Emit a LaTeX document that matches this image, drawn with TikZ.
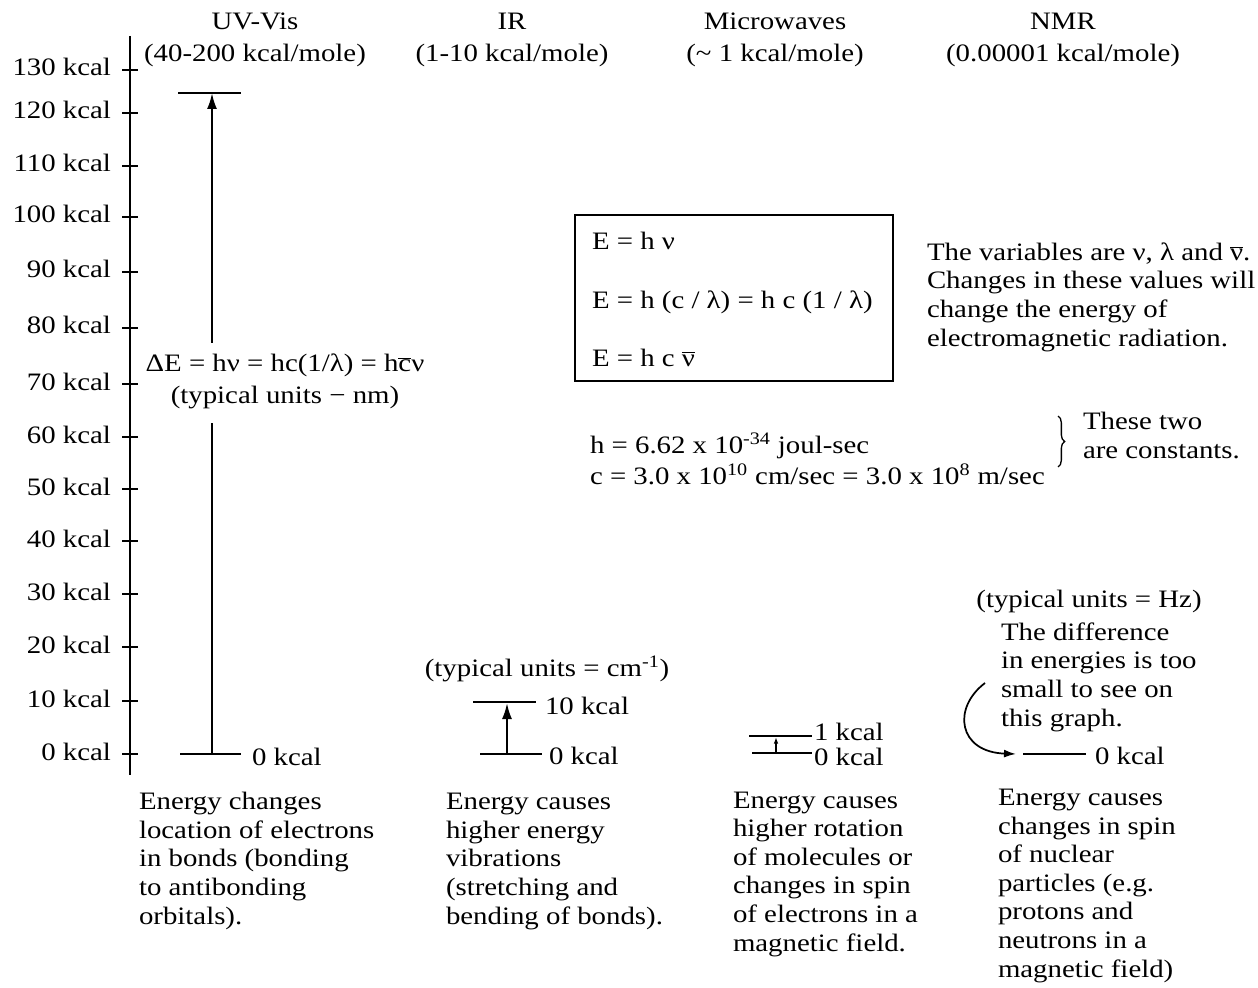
\documentclass[tikz,border=0pt]{standalone}
\usepackage{fontspec}
\setmainfont[FakeStretch=1.15]{Liberation Serif}
\usetikzlibrary{arrows.meta,decorations.pathreplacing}
\newcommand{\ovl}[1]{$\overline{\hbox{#1}}$}
\begin{document}
\begin{tikzpicture}[x=0.75pt,y=-0.75pt,
  txt/.style={inner sep=0pt,outer sep=0pt,font=\fontsize{18.8}{21.4}\selectfont},
  ml/.style={txt,align=left,anchor=base west},
  hd/.style={txt,align=center,anchor=base},
  lvl/.style={line width=1.7pt},
  arr/.style={line width=1.7pt,-{Latex[length=12pt,width=7.5pt]}},
  smallarr/.style={line width=1.2pt,-{Latex[length=5pt,width=3.5pt]}},
]
\fill[white] (0,0) rectangle (1258,988);
\useasboundingbox (0,0) rectangle (1258,988);

% multi-line nodes are placed by the baseline of their LAST line

% ---------- axis ----------
\coordinate (axT) at (130,36);
\coordinate (axB) at (130,775);
\draw[line width=2.1pt] (axT) -- (axB);
\foreach \v/\y in {130/70,120/113,110/166,100/217,90/272,80/328,70/384,60/437,50/489,40/541,30/594,20/647,10/701,0/754}{
  \coordinate (tk\v) at (130,\y);
  \draw[line width=1.9pt] ([xshift=-6pt]tk\v) -- ([xshift=6pt]tk\v);
  \node[txt,anchor=base east] (lb\v) at (111,\y+6) {\v\ kcal};
}

% ---------- headings ----------
\node[hd] (hUV) at (255,62) {UV-Vis\\[3pt](40-200 kcal/mole)};
\node[hd] (hIR) at (512,62) {IR\\[3pt](1-10 kcal/mole)};
\node[hd] (hMW) at (775,62) {Microwaves\\[3pt](\textasciitilde\ 1 kcal/mole)};
\node[hd] (hNMR) at (1063,62) {NMR\\[3pt](0.00001 kcal/mole)};

% ---------- UV-Vis ----------
\coordinate (uvBa) at (180,754); \coordinate (uvBb) at (241,754);
\coordinate (uvTa) at (178,93);  \coordinate (uvTb) at (241,93);
\draw[lvl] (uvBa) -- (uvBb);
\draw[lvl] (uvTa) -- (uvTb);
\coordinate (uv0) at (212,754);
\coordinate (uv1) at (212,93);
\coordinate (uvGapB) at (212,423);
\coordinate (uvGapT) at (212,343);
\draw[lvl] (uv0) -- (uvGapB);
\draw[arr] (uvGapT) -- (uv1);
\node[hd] (dE) at (285,403) {ΔE = hν = hc(1/λ) = h\ovl{c}ν\\[2pt](typical units − nm)};
\node[txt,anchor=base west] (uv0lab) at (252,765) {0 kcal};
\node[ml] (uvTxt) at (139,924) {Energy changes\\location of electrons\\in bonds (bonding\\to antibonding\\orbitals).};

% ---------- formula box ----------
\coordinate (bxA) at (575,215); \coordinate (bxB) at (893,381);
\draw[line width=1.1pt] (bxA) rectangle (bxB);
\node[txt,anchor=base west] (f1) at (592,250) {E = h ν};
\node[txt,anchor=base west] (f2) at (592,309) {E = h (c / λ) = h c (1 / λ)};
\node[txt,anchor=base west] (f3) at (592,366) {E = h c \ovl{ν}};

\node[ml] (vars) at (927,346) {The variables are ν, λ and \ovl{ν}.\\Changes in these values will\\change the energy of\\electromagnetic radiation.};

\node[txt,anchor=base west] (hconst) at (590,453) {h = 6.62 x 10\textsuperscript{-34} joul-sec};
\node[txt,anchor=base west] (cconst) at (590,484) {c = 3.0 x 10\textsuperscript{10} cm/sec = 3.0 x 10\textsuperscript{8} m/sec};
\coordinate (brT) at (1058,416);
\coordinate (brB) at (1058,467);
\draw[line width=1pt,decorate,decoration={brace,amplitude=5pt}] (brT) -- (brB);
\node[ml] (consts) at (1083,458) {These two\\are constants.};

% ---------- IR ----------
\node[txt,anchor=base] (irUnits) at (547,676) {(typical units = cm\textsuperscript{-1})};
\coordinate (irTa) at (473,702); \coordinate (irTb) at (536,702);
\coordinate (irBa) at (480,754); \coordinate (irBb) at (542,754);
\draw[lvl] (irTa) -- (irTb);
\draw[lvl] (irBa) -- (irBb);
\coordinate (ir0) at (507,754); \coordinate (ir1) at (507,703);
\draw[arr] (ir0) -- (ir1);
\node[txt,anchor=base west] (ir10lab) at (545,714) {10 kcal};
\node[txt,anchor=base west] (ir0lab) at (549,764) {0 kcal};
\node[ml] (irTxt) at (446,924) {Energy causes\\higher energy\\vibrations\\(stretching and\\bending of bonds).};

% ---------- Microwaves ----------
\coordinate (mwTa) at (749,736); \coordinate (mwTb) at (812,736);
\coordinate (mwBa) at (752,753); \coordinate (mwBb) at (812,753);
\draw[lvl] (mwTa) -- (mwTb);
\draw[lvl] (mwBa) -- (mwBb);
\coordinate (mw0) at (776,753); \coordinate (mw1) at (776,737);
\draw[smallarr] (mw0) -- (mw1);
\node[txt,anchor=base west] (mw1lab) at (814,740) {1 kcal};
\node[txt,anchor=base west] (mw0lab) at (814,765) {0 kcal};
\node[ml] (mwTxt) at (733,951) {Energy causes\\higher rotation\\of molecules or\\changes in spin\\of electrons in a\\magnetic field.};

% ---------- NMR ----------
\node[txt,anchor=base] (nmrUnits) at (1089,607) {(typical units = Hz)};
\node[ml] (nmrNote) at (1001,726) {The difference\\in energies is too\\small to see on\\this graph.};
\coordinate (nmrLa) at (1023,754); \coordinate (nmrLb) at (1086,754);
\draw[lvl] (nmrLa) -- (nmrLb);
\node[txt,anchor=base west] (nmr0lab) at (1095,764) {0 kcal};
\coordinate (crvS) at (985,683);
\coordinate (crvE) at (1016,754);
\draw[line width=1.3pt,-{Latex[length=9pt,width=6pt]}] (crvS) .. controls (952,708) and (958,752) .. (crvE);
\node[ml] (nmrTxt) at (998,977) {Energy causes\\changes in spin\\of nuclear\\particles (e.g.\\protons and\\neutrons in a\\magnetic field)};
\end{tikzpicture}
\end{document}
